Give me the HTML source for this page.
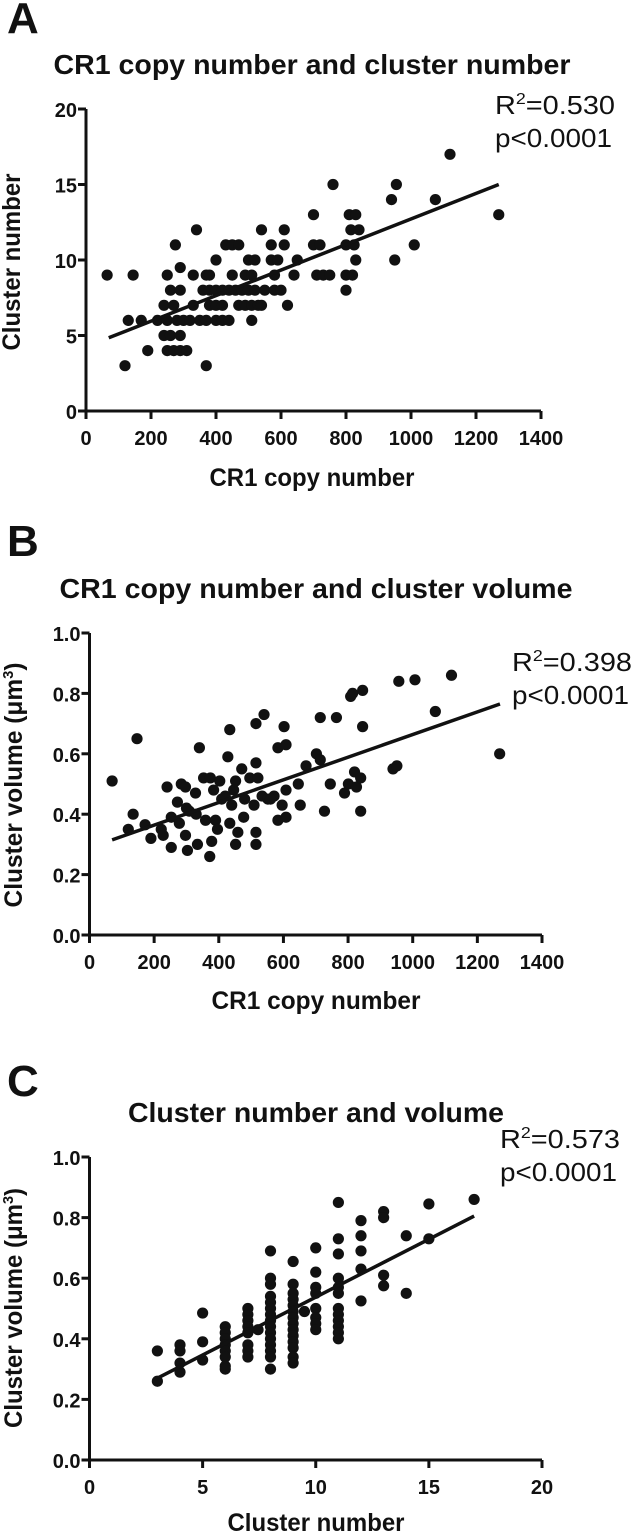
<!DOCTYPE html>
<html><head><meta charset="utf-8"><style>
html,body{margin:0;padding:0;background:#fff;}
svg{display:block;font-family:"Liberation Sans",Arial,sans-serif;}
</style></head><body>
<svg id="fig" width="632" height="1533" viewBox="0 0 632 1533" xmlns="http://www.w3.org/2000/svg"></svg>
<script>
// Panel A data: CR1 copy number vs cluster number
const aCopy = [1120,760,955,940,1075,700,810,830,1270,340,540,610,815,840,275,430,450,470,570,610,700,720,800,825,1010,400,500,520,570,590,650,830,950,290,65,145,250,330,370,380,450,490,510,580,640,710,730,750,800,820,260,290,360,380,400,420,440,460,480,500,520,550,580,600,800,240,270,330,380,400,420,470,490,510,530,540,620,130,170,220,250,280,300,320,350,370,400,420,440,510,240,260,290,190,250,270,290,310,120,370];
const aCluster = [17,15,15,14,14,13,13,13,13,12,12,12,12,12,11,11,11,11,11,11,11,11,11,11,11,10,10,10,10,10,10,10,10,9.5,9,9,9,9,9,9,9,9,9,9,9,9,9,9,9,9,8,8,8,8,8,8,8,8,8,8,8,8,8,8,8,7,7,7,7,7,7,7,7,7,7,7,7,6,6,6,6,6,6,6,6,6,6,6,6,6,5,5,5,4,4,4,4,4,3,3];
const aFitX = [70,1270];
const aFitY = [4.85,15.0];
const aXTicks = [0,200,400,600,800,1000,1200,1400];
const aYTicks = [0,5,10,15,20];
const aYTickLabels = ["0","5","10","15","20"];

// Panel B data: CR1 copy number vs cluster volume
const bCopy = [70,120,135,147,172,190,222,240,228,253,253,272,278,284,297,297,303,309,328,334,340,353,359,372,374,378,384,390,396,403,409,428,434,434,440,446,452,459,452,471,477,496,509,515,515,515,515,521,540,534,552,571,583,583,596,602,608,608,608,646,652,670,702,714,714,727,745,764,789,801,808,814,820,826,839,839,845,845,939,951,957,1007,1070,1120,1269,420,480,560,330,300];
const bVolume = [0.51,0.35,0.40,0.65,0.365,0.32,0.35,0.49,0.33,0.29,0.39,0.44,0.37,0.50,0.49,0.33,0.28,0.41,0.47,0.30,0.62,0.52,0.38,0.26,0.52,0.31,0.48,0.38,0.35,0.51,0.45,0.59,0.68,0.37,0.43,0.48,0.51,0.34,0.30,0.55,0.39,0.52,0.43,0.57,0.70,0.30,0.34,0.52,0.73,0.46,0.45,0.46,0.38,0.62,0.43,0.69,0.63,0.48,0.39,0.50,0.43,0.56,0.60,0.72,0.58,0.41,0.50,0.72,0.47,0.50,0.79,0.80,0.54,0.49,0.52,0.41,0.81,0.69,0.55,0.56,0.84,0.845,0.74,0.86,0.60,0.46,0.45,0.45,0.40,0.42];
const bFitX = [70,1270];
const bFitY = [0.315,0.765];
const bXTicks = [0,200,400,600,800,1000,1200,1400];
const bYTicks = [0,0.2,0.4,0.6,0.8,1.0];
const bYTickLabels = ["0.0","0.2","0.4","0.6","0.8","1.0"];

// Panel C data: cluster number vs cluster volume
const cCluster = [3,3,4,4,4,4,5,5,5,6,6,6,6,6,6,6,6,7,7,7,7,7,7,7,7,7.45,8,8,8,8,8,8,8,8,8,8,8,8,8,8,8,9,9,9,9,9,9,9,9,9,9,9,9,9,9,9.5,10,10,10,10,10,10,10,10,11,11,11,11,11,11,11,11,11,11,11,11,12,12,12,12,12,13,13,13,13,14,14,15,15,17];
const cVolume = [0.36,0.26,0.38,0.36,0.32,0.29,0.485,0.39,0.33,0.44,0.42,0.40,0.38,0.36,0.34,0.31,0.30,0.50,0.48,0.46,0.44,0.42,0.38,0.36,0.34,0.43,0.69,0.60,0.58,0.54,0.52,0.50,0.48,0.46,0.44,0.42,0.40,0.38,0.36,0.34,0.30,0.655,0.58,0.55,0.53,0.51,0.49,0.47,0.45,0.43,0.41,0.39,0.37,0.34,0.32,0.49,0.70,0.62,0.57,0.55,0.50,0.47,0.45,0.43,0.85,0.73,0.68,0.60,0.57,0.55,0.50,0.48,0.46,0.44,0.42,0.40,0.79,0.74,0.69,0.63,0.525,0.82,0.80,0.61,0.575,0.74,0.55,0.845,0.73,0.86];
const cFitX = [3,17];
const cFitY = [0.27,0.805];
const cXTicks = [0,5,10,15,20];
const cYTicks = [0,0.2,0.4,0.6,0.8,1.0];
const cYTickLabels = ["0.0","0.2","0.4","0.6","0.8","1.0"];

const NS = "http://www.w3.org/2000/svg";
const svg = document.getElementById("fig");
function mk(tag, attrs, parent) {
  const e = document.createElementNS(NS, tag);
  for (const k in attrs) e.setAttribute(k, attrs[k]);
  (parent || svg).appendChild(e);
  return e;
}
function txt(s, attrs, parent) { const t = mk("text", attrs, parent); t.textContent = s; return t; }

function panel(p) {
  const g = mk("g", {});
  
  
  const sx = v => p.x0 + (v - p.xmin) / (p.xmax - p.xmin) * (p.x1 - p.x0);
  const sy = v => p.y0 - (v - p.ymin) / (p.ymax - p.ymin) * (p.y0 - p.y1);
  const L = txt(p.letter, {x: 7, y: p.letterY, "font-size": 44, "font-weight": "bold", fill: "#111"}, g);
  
  
  const T = txt(p.title, {x: p.titleX, y: p.titleY, "font-size": 28, "font-weight": "bold", "text-anchor": "middle", fill: "#111", textLength: p.titleW, lengthAdjust: "spacingAndGlyphs"}, g);
  
  
  const ax = mk("path", {d: `M${p.x0},${p.y1} L${p.x0},${p.y0} L${p.x1},${p.y0}`, fill: "none", stroke: "#111", "stroke-width": 3}, g);
  
  
  p.xTicks.forEach(v => {
    const x = sx(v);
    const tk = mk("line", {x1: x, y1: p.y0, x2: x, y2: p.y0 + 8, stroke: "#111", "stroke-width": 3}, g);
    
    
    const tl = txt(String(v), {x: x, y: p.y0 + 34, "font-size": 20, "font-weight": "bold", "text-anchor": "middle", fill: "#111"}, g);
    
    
  });
  p.yTicks.forEach((v, i) => {
    const y = sy(v);
    const tk = mk("line", {x1: p.x0 - 8, y1: y, x2: p.x0, y2: y, stroke: "#111", "stroke-width": 3}, g);
    
    
    const tl = txt(p.yLabels[i], {x: p.x0 - 9, y: y + 8, "font-size": 20, "font-weight": "bold", "text-anchor": "end", fill: "#111"}, g);
    
    
  });
  const xt = txt(p.xTitle, {x: p.xTitleX, y: p.xTitleY, "font-size": 25, "font-weight": "bold", "text-anchor": "middle", fill: "#111", textLength: p.xTitleW, lengthAdjust: "spacingAndGlyphs"}, g);
  
  
  const yt = txt("", {x: 0, y: 0, "font-size": 25, "font-weight": "bold", "text-anchor": "middle", fill: "#111", textLength: p.yTitleW, lengthAdjust: "spacingAndGlyphs", transform: `translate(${p.yTitleX},${p.yTitleY}) rotate(-90)`}, g);
  
  
  if (p.yTitleSup) {
    yt.appendChild(document.createTextNode(p.yTitle));
    const s = mk("tspan", {dy: -9, "font-size": 15}, yt); s.textContent = "3";
    const s2 = mk("tspan", {dy: 9}, yt); s2.textContent = ")";
  } else yt.textContent = p.yTitle;
  p.xs.forEach((v, i) => {
    const c = mk("circle", {cx: sx(v), cy: sy(p.ys[i]), r: 5.6, fill: "#111"}, g);
    
    
  });
  const fl = mk("line", {x1: sx(p.fitX[0]), y1: sy(p.fitY[0]), x2: sx(p.fitX[1]), y2: sy(p.fitY[1]), stroke: "#111", "stroke-width": 3.5}, g);
  
  
  const r = txt("R", {x: p.statX, y: p.statY, "font-size": 26, fill: "#111", textLength: 120, lengthAdjust: "spacingAndGlyphs"}, g);
  
  
  const sup = mk("tspan", {dy: -10, "font-size": 16}, r); sup.textContent = "2";
  const rest = mk("tspan", {dy: 10}, r); rest.textContent = "=" + p.r2;
  const pv = txt("p<0.0001", {x: p.statX, y: p.statY + 33, "font-size": 26, fill: "#111", textLength: 117, lengthAdjust: "spacingAndGlyphs"}, g);
  
  
}

panel({id: "panel-a", letter: "A", letterY: 33, title: "CR1 copy number and cluster number", titleX: 312, titleY: 74, titleW: 517,
  x0: 86, x1: 541, y0: 411, y1: 109, xmin: 0, xmax: 1400, ymin: 0, ymax: 20,
  xTicks: aXTicks, yTicks: aYTicks, yLabels: aYTickLabels,
  xTitle: "CR1 copy number", xTitleX: 312, xTitleW: 205, xTitleY: 486, yTitle: "Cluster number", yTitleW: 177, yTitleX: 20, yTitleY: 262,
  xs: aCopy, ys: aCluster, fitX: aFitX, fitY: aFitY, statX: 495, statY: 114, r2: "0.530"});
panel({id: "panel-b", letter: "B", letterY: 556, title: "CR1 copy number and cluster volume", titleX: 316, titleY: 598, titleW: 513,
  x0: 89.5, x1: 542, y0: 935, y1: 633, xmin: 0, xmax: 1400, ymin: 0, ymax: 1,
  xTicks: bXTicks, yTicks: bYTicks, yLabels: bYTickLabels,
  xTitle: "CR1 copy number", xTitleX: 316, xTitleW: 209, xTitleY: 1009, yTitle: "Cluster volume (\u03bcm", yTitleSup: true, yTitleW: 245, yTitleX: 22, yTitleY: 785,
  xs: bCopy, ys: bVolume, fitX: bFitX, fitY: bFitY, statX: 512, statY: 671, r2: "0.398"});
panel({id: "panel-c", letter: "C", letterY: 1096, title: "Cluster number and volume", titleX: 316, titleY: 1122, titleW: 376,
  x0: 89.5, x1: 542, y0: 1460, y1: 1157, xmin: 0, xmax: 20, ymin: 0, ymax: 1,
  xTicks: cXTicks, yTicks: cYTicks, yLabels: cYTickLabels,
  xTitle: "Cluster number", xTitleX: 316, xTitleW: 177, xTitleY: 1531, yTitle: "Cluster volume (\u03bcm", yTitleSup: true, yTitleW: 240, yTitleX: 22, yTitleY: 1308,
  xs: cCluster, ys: cVolume, fitX: cFitX, fitY: cFitY, statX: 500, statY: 1148, r2: "0.573"});
</script>
</body></html>
